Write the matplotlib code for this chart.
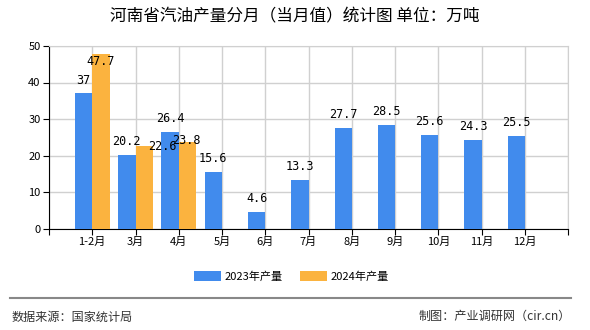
import matplotlib.pyplot as plt
from matplotlib.lines import Line2D
import numpy as np

plt.rcParams['font.family'] = ['Noto Sans CJK SC', 'DejaVu Sans']

months = ['1-2月', '3月', '4月', '5月', '6月', '7月', '8月', '9月', '10月', '11月', '12月']
y2023 = [37, 20.2, 26.4, 15.6, 4.6, 13.3, 27.7, 28.5, 25.6, 24.3, 25.5]
y2024 = [47.7, 22.6, 23.8]
lab2023 = ['37', '20.2', '26.4', '15.6', '4.6', '13.3', '27.7', '28.5', '25.6', '24.3', '25.5']
lab2024 = ['47.7', '22.6', '23.8']

blue = '#418BED'
orange = '#FBB33F'

fig = plt.figure(figsize=(5.9, 3.3), dpi=100)
ax = fig.add_axes([0.083, 0.306, 0.88, 0.555])

x = np.arange(len(months))
w = 0.4
ax.bar(x - w / 2, y2023, width=w, color=blue, zorder=3, label='2023年产量')
x2 = np.arange(len(y2024))
ax.bar(x2 + w / 2, y2024, width=w, color=orange, zorder=3, label='2024年产量')

# 数值标签
for xi, v, t in zip(x, y2023, lab2023):
    ax.annotate(t, (xi - w / 2, v), xytext=(0, 5), textcoords='offset points',
                ha='center', va='bottom', fontsize=8.5, family='DejaVu Sans Mono', zorder=4)
off2024 = [(0, -10), (13, -5), (-1, -4)]
for xi, v, t, o in zip(x2, y2024, lab2024, off2024):
    ax.annotate(t, (xi + w / 2, v), xytext=o, textcoords='offset points',
                ha='center', va='bottom', fontsize=8.5, family='DejaVu Sans Mono', zorder=4)

ax.set_xlim(-1, len(months))
ax.set_ylim(0, 50)
ax.set_yticks([0, 10, 20, 30, 40, 50])
ax.set_xticks(np.arange(-1, len(months) + 1))
ax.set_xticklabels([''] + months + [''])
ax.tick_params(axis='both', labelsize=8, length=4, color='black', pad=2)
ax.grid(True, color='#d0d0d0', linewidth=1, zorder=0)
for s in ['top', 'right']:
    ax.spines[s].set_color('#d0d0d0')
ax.spines['left'].set_color('black')
ax.spines['bottom'].set_color('black')

fig.text(0.5, 0.948, '河南省汽油产量分月（当月值）统计图 单位：万吨', ha='center', va='center', fontsize=12)

fig.legend(loc='center', bbox_to_anchor=(0.494, 0.161), ncol=2, frameon=False, fontsize=8,
           handlelength=2.4, handleheight=1.0, columnspacing=1.6, handletextpad=0.3)

fig.add_artist(Line2D([0.017, 0.968], [0.097, 0.097], color='#888888', linewidth=1.5))
fig.text(0.02, 0.04, '数据来源：国家统计局', ha='left', va='center', fontsize=8.7, color='#333333')
fig.text(0.968, 0.04, '制图：产业调研网（cir.cn）', ha='right', va='center', fontsize=8.7, color='#333333')

fig.savefig('out.png', dpi=100)
